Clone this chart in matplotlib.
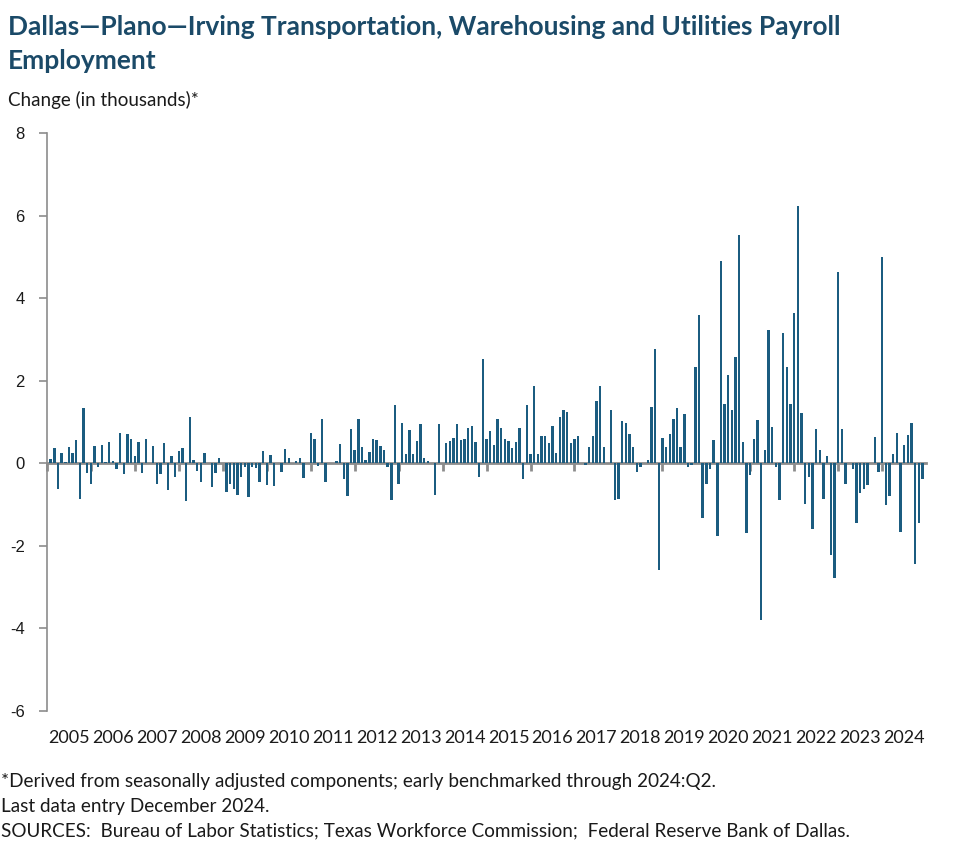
import matplotlib
matplotlib.use("Agg")
import matplotlib.pyplot as plt
import matplotlib.transforms as mtrans
import numpy as np

years = list(range(2005, 2025))
year_labels = [str(y) for y in years]

# Monthly change, Feb 2005 - Dec 2024 (thousands)
v2005 = [0.10, 0.36, -0.62, 0.25, 0.02, 0.40, 0.25, 0.56, -0.86, 1.34, -0.23]
v2006 = [-0.50, 0.41, -0.09, 0.44, 0.03, 0.52, 0.06, -0.14, 0.73, -0.26, 0.71, 0.60]
v2007 = [0.17, 0.52, -0.23, 0.59, 0.00, 0.41, -0.50, -0.26, 0.49, -0.65, 0.17, -0.34]
v2008 = [0.30, 0.36, -0.92, 1.11, 0.07, -0.19, -0.45, 0.25, 0.00, -0.57, -0.23, 0.13]
v2009 = [0.00, -0.70, -0.50, -0.62, -0.77, -0.33, -0.09, -0.82, -0.09, -0.12, -0.45, 0.30]
v2010 = [-0.52, 0.19, -0.56, 0.00, -0.22, 0.35, 0.13, 0.00, 0.06, 0.13, -0.36, 0.00]
v2011 = [0.73, 0.60, -0.07, 1.07, -0.45, 0.00, 0.00, 0.06, 0.46, -0.39, -0.80, 0.84]
v2012 = [0.33, 1.08, 0.40, 0.09, 0.28, 0.59, 0.57, 0.43, 0.33, -0.08, -0.88, 1.42]
v2013 = [-0.51, 0.98, 0.23, 0.81, 0.23, 0.55, 0.94, 0.14, 0.06, 0.00, -0.78, 0.94]
v2014 = [0.00, 0.48, 0.53, 0.62, 0.94, 0.57, 0.60, 0.86, 0.91, 0.52, -0.34, 2.53]
v2015 = [0.60, 0.77, 0.45, 1.08, 0.86, 0.60, 0.55, 0.38, 0.52, 0.86, -0.39, 1.40]
v2016 = [0.23, 1.88, 0.23, 0.65, 0.67, 0.50, 0.91, 0.26, 1.13, 1.28, 1.25, 0.50]
v2017 = [0.60, 0.67, 0.00, -0.05, 0.40, 0.67, 1.52, 1.88, 0.40, 0.00, 1.28, -0.88]
v2018 = [-0.86, 1.03, 0.98, 0.72, 0.39, -0.20, -0.10, 0.00, 0.09, 1.36, 2.78, -2.58]
v2019 = [0.62, 0.39, 0.70, 1.08, 1.35, 0.40, 1.20, -0.10, -0.05, 2.34, 3.60, -1.33]
v2020 = [-0.50, -0.14, 0.56, -1.77, 4.89, 1.43, 2.13, 1.28, 2.57, 5.54, 0.51, -1.69]
v2021 = [-0.29, 0.58, 1.05, -3.79, 0.32, 3.22, 0.89, -0.09, -0.89, 3.15, 2.33, 1.43]
v2022 = [3.63, 6.23, 1.21, -0.99, -0.34, -1.60, 0.82, 0.31, -0.87, 0.17, -2.22, -2.77]
v2023 = [4.64, 0.84, -0.50, 0.00, -0.14, -1.45, -0.72, -0.62, -0.53, 0.00, 0.63, -0.22]
v2024 = [4.99, -1.02, -0.80, 0.22, 0.73, -1.67, 0.44, 0.68, 0.97, -2.44, -1.45, -0.39]

values = (v2005 + v2006 + v2007 + v2008 + v2009 + v2010 + v2011 + v2012 + v2013
          + v2014 + v2015 + v2016 + v2017 + v2018 + v2019 + v2020 + v2021
          + v2022 + v2023 + v2024)

yticks = [8, 6, 4, 2, 0, -2, -4, -6]

title_lines = ["Dallas\u2014Plano\u2014Irving Transportation, Warehousing and Utilities Payroll",
               "Employment"]
ylab = "Change (in thousands)*"
notes = ["*Derived from seasonally adjusted components; early benchmarked through 2024:Q2.",
         "Last data entry December 2024.",
         "SOURCES:  Bureau of Labor Statistics; Texas Workforce Commission;  Federal Reserve Bank of Dallas."]

BAR = "#1b5c80"
GREY = "#8c8c8c"
TITLE_C = "#1b4a68"
TXT = "#1a1a1a"

W, H = 977, 864
fig = plt.figure(figsize=(W / 100, H / 100), dpi=100)
ax = fig.add_axes([47 / W, (H - 711) / H, 879.1 / W, 578 / H])

x = np.arange(1, len(values) + 1)
ax.bar(x, values, width=0.65, color=BAR, zorder=3)

ax.set_xlim(0, 240)
ax.set_ylim(-6, 8)
ax.set_yticks(yticks)
ax.set_yticklabels([str(t) for t in yticks], fontsize=12, family="Liberation Sans", color=TXT)
ax.tick_params(axis="y", direction="out", length=6, width=1.2, color=GREY, pad=10)

for s in ["top", "right"]:
    ax.spines[s].set_visible(False)
ax.spines["left"].set_color(GREY)
ax.spines["left"].set_linewidth(1.2)
ax.spines["bottom"].set_position(("data", 0))
ax.spines["bottom"].set_color(GREY)
ax.spines["bottom"].set_linewidth(2)
ax.spines["bottom"].set_zorder(2)
ax.set_xticks([12 * k for k in range(len(years))])
ax.tick_params(axis="x", direction="out", length=6, width=2, color=GREY, labelbottom=False)

trans = mtrans.blended_transform_factory(ax.transData, ax.transAxes)
for k, lab in enumerate(year_labels):
    ax.text(12 * k + 6, -0.047, lab, transform=trans, ha="center", va="center",
            fontsize=13, family="Lato", color=TXT)

for i, t in enumerate(title_lines):
    fig.text(8 / W, 1 - (35 + 34 * i) / H, t, fontsize=19, fontweight="bold", family="Lato",
             color=TITLE_C, va="baseline", ha="left")
fig.text(8 / W, 1 - 106 / H, ylab, fontsize=13.5, family="Lato", color=TXT, va="baseline")
for i, n in enumerate(notes):
    fig.text(1 / W, 1 - (786.7 + 25 * i) / H, n, fontsize=13.6, family="Lato", color=TXT,
             va="baseline")

fig.savefig("out.png", dpi=100)
